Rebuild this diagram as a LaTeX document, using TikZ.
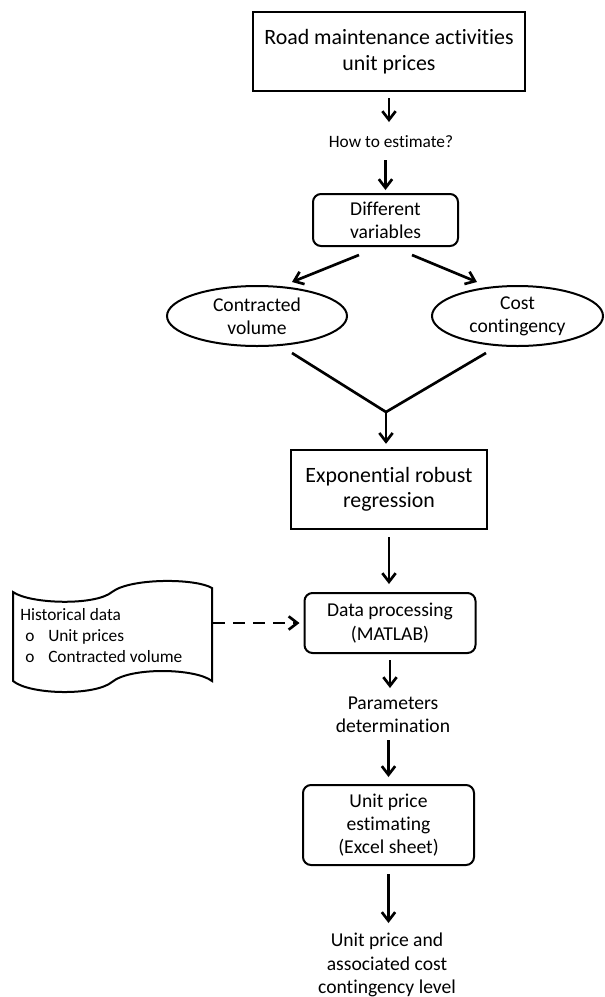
\documentclass[tikz,border=0pt]{standalone}
\usepackage{fontspec}
\setmainfont[Ligatures=NoCommon]{Carlito}
\usetikzlibrary{arrows.meta,shapes.geometric,calc}
\begin{document}
\begin{tikzpicture}[x=0.75pt,y=-0.75pt,
  big/.style={font=\fontsize{16.4}{19}\selectfont},
  mid/.style={font=\fontsize{14.7}{17.5}\selectfont},
  small/.style={font=\fontsize{13}{15.75}\selectfont},
  sqbox/.style={draw, line width=1.8pt, inner sep=0pt, align=center, big},
  rbox/.style={draw, line width=1.5pt, rounded corners=6pt, inner sep=0pt, align=center, mid},
  oval/.style={draw, ellipse, line width=1.5pt, inner sep=0pt},
  txt/.style={inner sep=0pt, align=center},
  arr/.style={line width=2pt, -{Straight Barb[length=6.5pt,width=10pt]}},
  seg/.style={line width=2pt},
]
\useasboundingbox (0,0) rectangle (604,997);

% nodes
\node[sqbox, minimum width=204pt, minimum height=59.25pt] (top) at (389,51.5)
  {Road maintenance activities\\unit prices};
\node[txt, small] (how) at (391,142) {How to estimate?};
\node[rbox, minimum width=108.75pt, minimum height=39pt] (dv) at (385.5,220)
  {Different\\variables};
\node[oval, minimum width=135pt, minimum height=45pt] (cv) at (257,316) {};
\node[txt, mid] (cvt) at (cv.center) {Contracted\\volume};
\node[oval, minimum width=128.25pt, minimum height=45pt] (cc) at (517.5,316) {};
\node[txt, mid] (cct) at (cc.center) {Cost\\contingency};
\coordinate (j) at (386,412);
\node[sqbox, minimum width=147pt, minimum height=59.25pt] (exp) at (389,489.5)
  {Exponential robust\\regression};
\node[rbox, minimum width=128.25pt, minimum height=45pt] (dp) at (390,623)
  {Data processing\\(MATLAB)};
\node[inner sep=0pt, minimum width=149.25pt, minimum height=66.75pt] (hist) at (112.5,636) {};
\node[inner sep=0pt, align=left, small, anchor=west] (histt) at (20,636)
  {Historical data\\\makebox[21pt][l]{\hspace{3.75pt}o}Unit prices\\\makebox[21pt][l]{\hspace{3.75pt}o}Contracted volume};
\node[txt, mid] (par) at (393,715) {Parameters\\determination};
\node[rbox, minimum width=128.25pt, minimum height=60pt] (up) at (388.5,825)
  {Unit price\\estimating\\(Excel sheet)};
\node[txt, mid] (res) at (387,965) {Unit price and\\associated cost\\contingency level};

% punched tape outline
\draw[line width=1.5pt] (13,592) .. controls (30,604) and (95,606) .. (112,592)
  .. controls (130,578) and (195,578) .. (212,588) -- (212,681)
  .. controls (195,668) and (130,667) .. (112,682)
  .. controls (95,696) and (30,695) .. (13,681) -- cycle;

% connectors
\draw[arr, shorten <=4.5pt, shorten >=15pt] (top.south) -- (top.south |- how.center);
\draw[arr, shorten <=13.5pt, shorten >=2.25pt] (dv.north |- how.center) -- (dv.north);
\draw[arr] ($(dv.south)+(-26.5,8)$) -- ($(cv.north)+(35,-3)$);
\draw[arr] ($(dv.south)+(26.5,8)$) -- ($(cc.north)+(-40.5,-3)$);
\draw[seg] ($(cv.south)+(35,6)$) -- (j);
\draw[seg] ($(cc.south)+(-31.5,6)$) -- (j);
\draw[arr, shorten >=3.75pt] (j) -- (j |- exp.north);
\draw[arr, shorten <=5.25pt, shorten >=6pt] (exp.south) -- (exp.south |- dp.north);
\draw[arr, dash pattern=on 9pt off 6pt, shorten <=0.75pt, shorten >=3pt] (hist.east |- dp.west) -- (dp.west);
\draw[arr, shorten <=4.5pt, shorten >=20.25pt] (dp.south) -- (dp.south |- par.center);
\draw[arr, shorten <=18.75pt, shorten >=5.25pt] (up.north |- par.center) -- (up.north);
\draw[arr, shorten <=6pt, shorten >=31.5pt] (up.south) -- (up.south |- res.center);
\end{tikzpicture}
\end{document}
